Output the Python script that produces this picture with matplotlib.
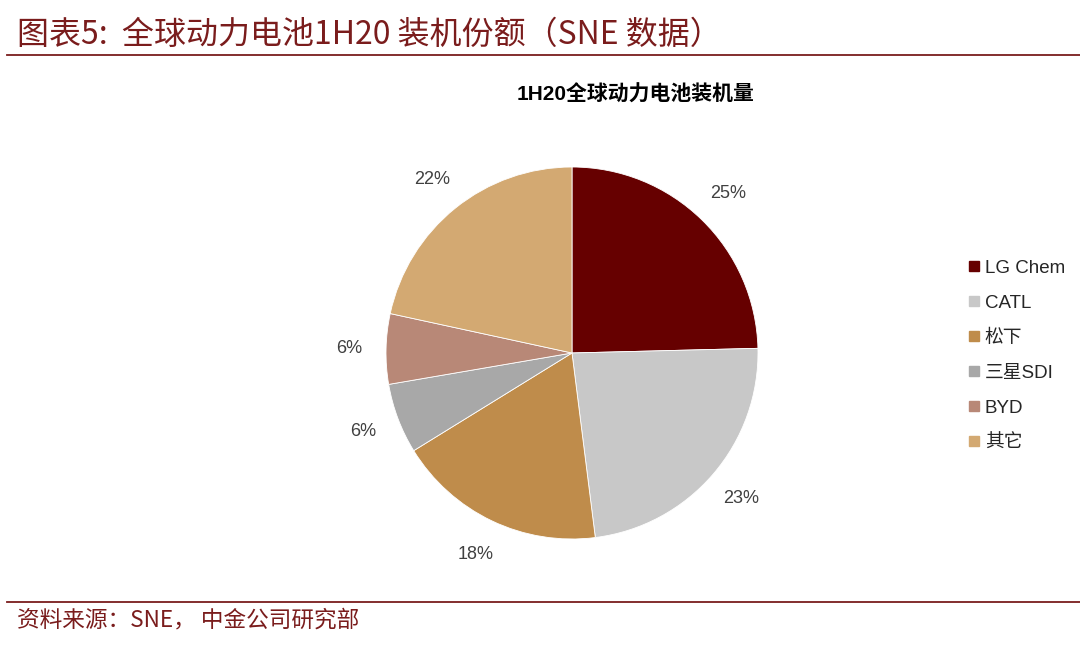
import matplotlib
matplotlib.use("Agg")
import matplotlib.pyplot as plt
from matplotlib.lines import Line2D

categories = ["LG Chem", "CATL", "松下", "三星SDI", "BYD", "其它"]
shares = [24.6, 23.4, 18.2, 6.1, 6.1, 21.6]
colors = ["#660000", "#C8C8C8", "#BF8C4B", "#A8A8A8", "#B88877", "#D3A972"]

fig_title = "图表5:  全球动力电池1H20 装机份额（SNE 数据）"
chart_title = "1H20全球动力电池装机量"
source_text = "资料来源：SNE， 中金公司研究部"

W, H = 1080, 654
fig = plt.figure(figsize=(W / 100, H / 100), dpi=100)
fig.patch.set_facecolor("white")

cjk = ["Noto Sans CJK SC", "DejaVu Sans"]
latin_cjk = ["Liberation Sans", "Noto Sans CJK SC", "DejaVu Sans"]
dark_red = "#7A1C1C"

# header
fig.text(17 / W, 1 - 35 / H, fig_title, fontsize=23, color=dark_red,
         family=cjk, style="italic", va="center", ha="left")
fig.add_artist(Line2D([7 / W, 1.0], [1 - 55 / H, 1 - 55 / H], color=dark_red, lw=1.3))

# footer
fig.add_artist(Line2D([7 / W, 1.0], [1 - 602 / H, 1 - 602 / H], color=dark_red, lw=1.3))
fig.text(17 / W, 1 - 620 / H, source_text, fontsize=16.3, color=dark_red,
         family=cjk, style="italic", va="center", ha="left")

# chart title
fig.text(636 / W, 1 - 95 / H, chart_title, fontsize=15, color="black",
         family=latin_cjk, weight="bold", va="center", ha="center")

# pie
cx, cy, r = 572, 353, 186
ax = fig.add_axes([(cx - r) / W, (H - cy - r) / H, 2 * r / W, 2 * r / H])
wedges, texts, autotexts = ax.pie(
    shares, colors=colors, startangle=90, counterclock=False,
    autopct="%.0f%%", pctdistance=1.2, radius=1,
    wedgeprops=dict(linewidth=0.6, edgecolor="white"),
    textprops=dict(fontsize=13, color="#404040", family=latin_cjk))
ax.set_xlim(-1, 1)
ax.set_ylim(-1, 1)
ax.set_aspect("equal")
ax.axis("off")

# legend
handles = [Line2D([], [], marker="s", linestyle="none", markersize=7,
                  markerfacecolor=c, markeredgecolor=c) for c in colors]
leg = fig.legend(handles, categories, loc="upper left",
                 bbox_to_anchor=(951 / W, 1 - 243 / H), frameon=False,
                 handlelength=0.6, handletextpad=0.3, labelspacing=0.95,
                 prop=dict(family=latin_cjk, size=13.5))
for t in leg.get_texts():
    t.set_color("#262626")

fig.savefig("out.png", dpi=100, facecolor="white")
